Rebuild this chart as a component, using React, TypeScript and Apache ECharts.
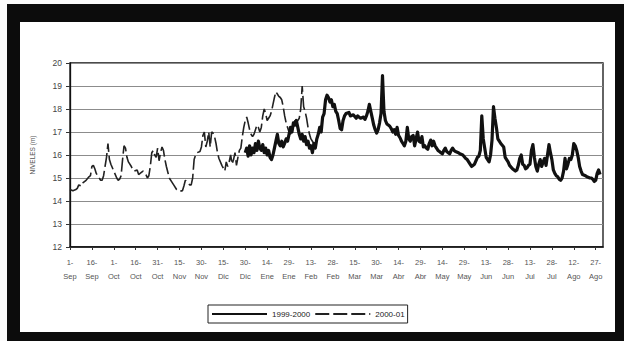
import React, { useEffect, useRef } from "react";
import * as echarts from "echarts";

// Tick labels every 15 days along the hydrological year (Sep → Ago)
const xTickLabels = [
  "1-Sep", "16-Sep", "1-Oct", "16-Oct", "31-Oct", "15-Nov", "30-Nov", "15-Dic",
  "30-Dic", "14-Ene", "29-Ene", "13-Feb", "28-Feb", "15-Mar", "30-Mar", "14-Abr",
  "29-Abr", "14-May", "29-May", "13-Jun", "28-Jun", "13-Jul", "28-Jul", "12-Ago", "27-Ago",
];

const seriesNames = ["1999-2000", "2000-01"];

// [day since 1-Sep, level (m)]
const serie9900: [number, number][] = [
  [120, 16.1], [121, 16.3], [122, 15.95], [123, 16.4], [124, 16.0], [125, 16.3], [126, 16.1], [127, 16.5],
  [128, 16.2], [129, 16.6], [130, 16.3], [131, 16.2], [132, 16.45], [133, 16.1], [134, 16.3], [135, 16.0],
  [136, 16.2], [137, 15.9], [138, 15.8], [139, 16.0], [140, 16.3], [141, 16.6], [142, 16.9], [143, 16.5],
  [144, 16.4], [145, 16.6], [146, 16.35], [147, 16.5], [148, 16.7], [149, 16.6], [150, 16.9], [151, 17.2],
  [152, 17.0], [153, 17.4], [154, 17.3], [155, 17.5], [156, 17.2], [157, 16.9], [158, 16.7], [159, 16.9],
  [160, 16.6], [161, 16.8], [162, 16.45], [163, 16.6], [164, 16.3], [165, 16.4], [166, 16.1], [167, 16.5],
  [168, 16.3], [169, 16.7], [170, 16.9], [171, 17.2], [172, 17.0], [173, 17.65], [174, 17.8], [175, 18.4],
  [176, 18.6], [177, 18.5], [178, 18.3], [179, 18.4], [180, 18.1], [181, 18.2], [182, 17.9], [183, 17.8],
  [184, 17.5], [185, 17.15], [186, 17.1], [187, 17.5], [188, 17.7], [189, 17.8], [191, 17.85], [192, 17.7],
  [194, 17.75], [196, 17.6], [197, 17.7], [199, 17.6], [201, 17.65], [202, 17.55], [203, 17.7], [204, 17.9],
  [205, 18.2], [206, 17.9], [207, 17.6], [208, 17.3], [209, 17.1], [210, 16.95], [211, 17.1], [212, 17.4],
  [213, 17.8], [214, 19.45], [215, 17.9], [216, 17.5], [217, 17.35], [218, 17.3], [219, 17.25], [220, 17.15],
  [221, 17.0], [222, 17.1], [223, 16.9], [224, 17.2], [225, 16.85], [226, 16.75], [227, 16.6], [228, 16.5],
  [229, 16.4], [230, 16.6], [231, 17.2], [232, 16.7], [233, 16.6], [234, 16.8], [235, 16.85], [236, 16.4],
  [237, 16.7], [238, 17.0], [239, 16.6], [240, 16.55], [241, 16.8], [242, 16.35], [243, 16.4], [244, 16.3],
  [245, 16.25], [246, 16.5], [247, 16.65], [248, 16.4], [249, 16.6], [250, 16.4], [251, 16.3], [252, 16.2],
  [253, 16.15], [254, 16.1], [255, 16.05], [256, 16.2], [257, 16.3], [258, 16.15], [259, 16.1], [260, 16.05],
  [261, 16.2], [262, 16.3], [263, 16.2], [264, 16.15], [266, 16.1], [267, 16.05], [269, 16.0], [271, 15.85],
  [272, 15.8], [274, 15.6], [275, 15.5], [277, 15.6], [279, 15.9], [280, 15.95], [281, 16.2], [282, 17.7],
  [283, 16.7], [285, 15.9], [287, 15.7], [288, 16.0], [289, 16.65], [290, 18.1], [291, 17.6], [292, 17.2],
  [293, 16.7], [294, 16.6], [295, 16.5], [297, 16.35], [298, 15.9], [300, 15.7], [301, 15.55], [303, 15.4],
  [305, 15.3], [306, 15.35], [307, 15.55], [308, 15.85], [309, 16.0], [310, 15.6], [311, 15.55], [312, 15.4],
  [313, 15.45], [314, 15.55], [315, 15.6], [316, 16.2], [317, 16.45], [318, 15.9], [319, 15.5], [320, 15.3],
  [321, 15.6], [322, 15.8], [323, 15.5], [324, 15.7], [325, 15.85], [326, 15.55], [327, 16.0], [328, 16.45],
  [329, 16.1], [330, 15.8], [331, 15.35], [332, 15.2], [333, 15.1], [334, 15.05], [335, 14.95], [336, 14.9],
  [337, 15.0], [338, 15.3], [339, 15.85], [340, 15.4], [341, 15.6], [342, 15.85], [343, 15.8], [344, 16.0],
  [345, 16.5], [346, 16.4], [347, 16.2], [348, 15.9], [349, 15.5], [350, 15.3], [351, 15.15], [353, 15.1],
  [354, 15.05], [356, 15.0], [357, 15.0], [358, 14.95], [359, 14.85], [360, 14.9], [361, 15.2], [362, 15.35],
  [363, 15.15],
];

const serie0001: [number, number][] = [
  [0, 14.5], [2, 14.45], [4, 14.5], [5, 14.55], [6, 14.7], [8, 14.65], [9, 14.8], [11, 14.9],
  [13, 15.05], [14, 15.1], [15, 15.5], [16, 15.55], [17, 15.4], [18, 15.2], [20, 15.0], [21, 14.9],
  [22, 14.9], [23, 15.1], [24, 15.5], [25, 15.9], [26, 16.5], [27, 15.8], [28, 15.6], [30, 15.3],
  [32, 15.0], [33, 14.9], [34, 14.95], [35, 15.1], [36, 15.8], [37, 16.4], [38, 16.3], [39, 15.9],
  [40, 15.7], [42, 15.5], [43, 15.35], [44, 15.3], [46, 15.35], [47, 15.15], [48, 15.2], [50, 15.3],
  [51, 15.25], [52, 15.15], [53, 15.0], [54, 15.1], [55, 15.5], [56, 16.1], [57, 16.2], [58, 16.0],
  [59, 15.9], [60, 16.3], [61, 15.75], [62, 16.1], [63, 16.35], [64, 16.2], [65, 15.8], [66, 15.5],
  [67, 15.25], [68, 15.0], [70, 14.8], [71, 14.7], [73, 14.5], [75, 14.42], [77, 14.45], [78, 14.65],
  [79, 14.9], [80, 14.85], [81, 14.77], [82, 14.7], [83, 14.7], [84, 15.0], [85, 15.8], [86, 16.0],
  [87, 16.1], [89, 16.15], [90, 16.35], [91, 16.85], [92, 17.0], [93, 16.35], [94, 16.6], [95, 17.0],
  [96, 16.35], [97, 17.0], [98, 16.95], [99, 16.8], [100, 16.5], [101, 16.1], [102, 15.85], [104, 15.55],
  [106, 15.3], [107, 15.7], [108, 15.5], [109, 15.7], [110, 16.0], [111, 15.6], [112, 15.8], [113, 16.1],
  [114, 15.55], [115, 15.9], [116, 16.2], [117, 16.3], [118, 16.8], [119, 17.2], [120, 17.5], [121, 17.65],
  [122, 17.4], [123, 17.1], [124, 16.9], [125, 16.8], [126, 16.9], [127, 17.1], [128, 17.3], [129, 17.2],
  [130, 17.0], [131, 17.2], [132, 17.7], [133, 18.0], [134, 17.8], [135, 17.5], [136, 17.6], [137, 17.7],
  [138, 17.9], [139, 18.2], [140, 18.5], [141, 18.75], [142, 18.65], [143, 18.55], [144, 18.5], [145, 18.4],
  [146, 18.1], [147, 17.7], [148, 17.4], [149, 17.2], [150, 17.0], [151, 16.9], [152, 17.1], [153, 17.3],
  [154, 17.5], [155, 17.45], [156, 17.5], [157, 17.6], [158, 18.0], [159, 19.0], [160, 18.1], [161, 17.9],
  [162, 17.6], [163, 17.2], [164, 16.9], [165, 16.7], [166, 16.6], [167, 16.5], [168, 16.6],
];

const FONT = "'Liberation Sans', Arial, sans-serif";

export default function App() {
  const ref = useRef<HTMLDivElement>(null);

  useEffect(() => {
    if (!ref.current) return;
    const chart = echarts.init(ref.current, null, { renderer: "svg" });
    chart.setOption({
      animation: false,
      textStyle: { fontFamily: FONT },
      grid: {
        left: 70,
        top: 63,
        right: 21,
        bottom: 94,
        show: true,
        borderColor: "#111",
        borderWidth: 1.3,
        backgroundColor: "transparent",
      },
      legend: {
        left: 208,
        top: 305,
        orient: "horizontal",
        itemWidth: 55,
        itemHeight: 8,
        itemGap: 4,
        padding: [5, 3],
        borderColor: "#222",
        borderWidth: 1,
        itemStyle: { color: "transparent", borderWidth: 0, opacity: 0 },
        textStyle: { fontSize: 8, color: "#222", fontFamily: FONT },
        data: seriesNames,
      },
      xAxis: {
        type: "value",
        min: 0,
        max: 365,
        interval: 15,
        axisLine: { show: true, lineStyle: { color: "#111", width: 1.5 } },
        axisTick: { show: true, length: 3, lineStyle: { color: "#333" } },
        splitLine: { show: false },
        axisLabel: {
          fontSize: 7.5,
          color: "#555",
          margin: 8,
          lineHeight: 14,
          fontFamily: FONT,
          showMaxLabel: false,
          formatter: (v: number) => {
            const s = xTickLabels[Math.round(v / 15)];
            return v % 15 === 0 && s ? s.replace("-", "-\n") : "";
          },
        },
      },
      yAxis: {
        type: "value",
        min: 12,
        max: 20,
        interval: 1,
        name: "NIVELES (m)",
        nameLocation: "middle",
        nameGap: 34,
        nameRotate: 90,
        nameTextStyle: { fontSize: 6.5, color: "#555", fontFamily: FONT },
        axisLine: { show: true, lineStyle: { color: "#111", width: 1.3 } },
        axisTick: { show: true, length: 4, lineStyle: { color: "#333" } },
        splitLine: { show: true, lineStyle: { color: "#8c8c8c", width: 1 } },
        axisLabel: { fontSize: 8.5, color: "#444", margin: 8, fontFamily: FONT },
      },
      series: [
        {
          name: seriesNames[0],
          type: "line",
          data: serie9900,
          symbol: "none",
          showSymbol: false,
          z: 3,
          lineStyle: { color: "#111", width: 3.2, join: "round" },
          itemStyle: { color: "#111" },
        },
        {
          name: seriesNames[1],
          type: "line",
          data: serie0001,
          symbol: "none",
          showSymbol: false,
          z: 2,
          lineStyle: { color: "#222", width: 1.6, type: [14, 4] },
          itemStyle: { color: "#222" },
        },
      ],
    });
    return () => chart.dispose();
  }, []);

  return (
    <div
      style={{
        position: "fixed",
        left: 0,
        top: 0,
        width: 624,
        height: 341,
        background: "#fbfbfb",
        overflow: "hidden",
      }}
    >
      <div style={{ position: "absolute", left: 7, top: 4, width: 617, height: 337, background: "#0c0c0c" }} />
      <div style={{ position: "absolute", left: 20, top: 22, width: 595, height: 310, background: "#fff" }} />
      <div ref={ref} style={{ position: "absolute", left: 0, top: 0, width: 624, height: 341 }} />
    </div>
  );
}
